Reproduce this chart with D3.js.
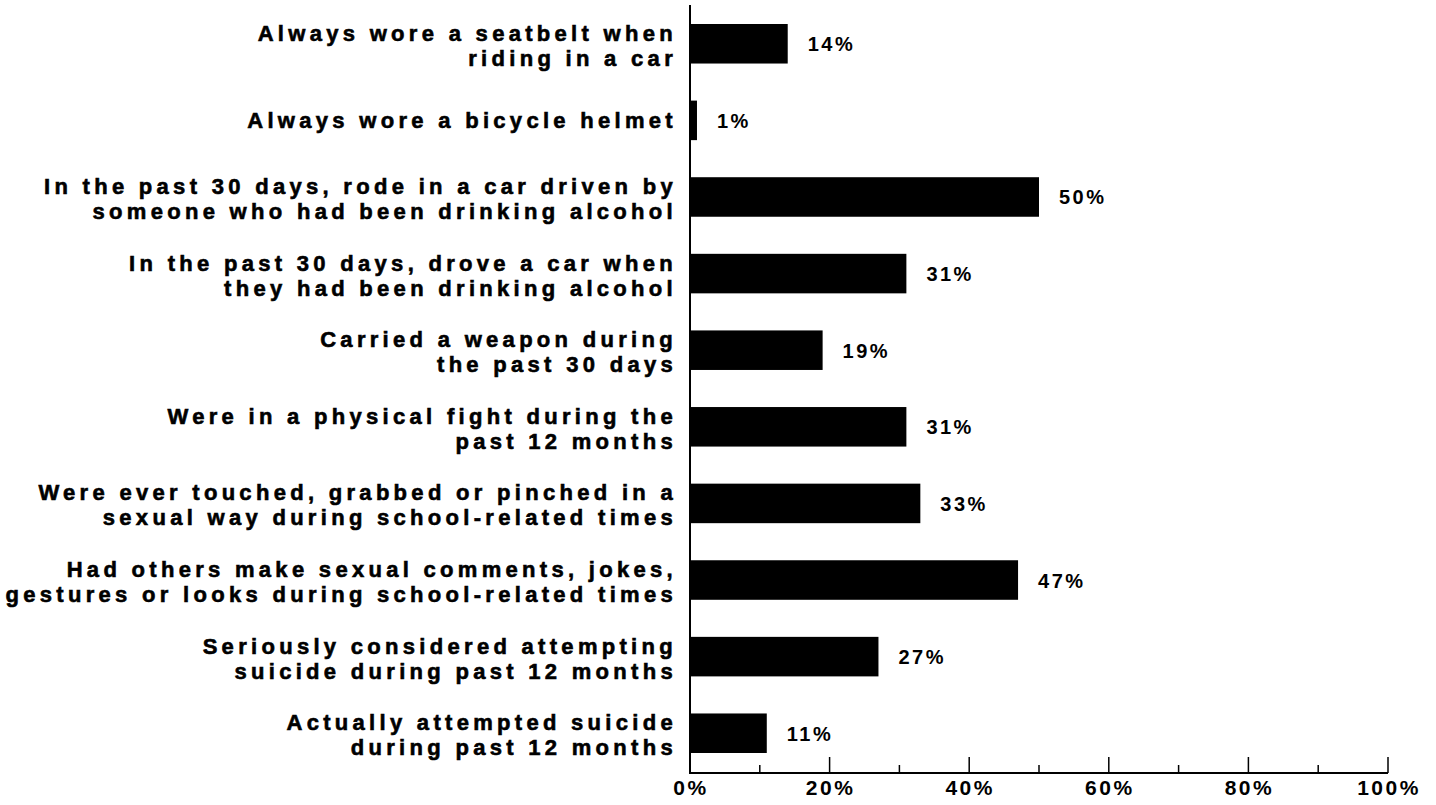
<!DOCTYPE html>
<html>
<head>
<meta charset="utf-8">
<script src="https://cdn.jsdelivr.net/npm/d3@7"></script>
<style>
  body { margin: 0; background: #fff; }
  text { font-family: "Liberation Sans", Arial, sans-serif; font-weight: bold; fill: #000; }
</style>
</head>
<body>
<div id="chart"></div>
<script>
// Category labels (two lines each, or one)
const categories = [
  ["Always wore a seatbelt when", "riding in a car"],
  ["Always wore a bicycle helmet"],
  ["In the past 30 days, rode in a car driven by", "someone who had been drinking alcohol"],
  ["In the past 30 days, drove a car when", "they had been drinking alcohol"],
  ["Carried a weapon during", "the past 30 days"],
  ["Were in a physical fight during the", "past 12 months"],
  ["Were ever touched, grabbed or pinched in a", "sexual way during school-related times"],
  ["Had others make sexual comments, jokes,", "gestures or looks during school-related times"],
  ["Seriously considered attempting", "suicide during past 12 months"],
  ["Actually attempted suicide", "during past 12 months"]
];
const values = [14, 1, 50, 31, 19, 31, 33, 47, 27, 11];
const majorTicks = [0, 20, 40, 60, 80, 100];
const minorTicks = [10, 30, 50, 70, 90];

const W = 1436, H = 805;
const margin = { top: 5, right: 48, bottom: 32, left: 690 };
const width = W - margin.left - margin.right;
const height = H - margin.top - margin.bottom;

const svg = d3.select("#chart")
  .append("svg")
    .attr("width", W)
    .attr("height", H)
  .append("g")
    .attr("transform", `translate(${margin.left},${margin.top})`);

const x = d3.scaleLinear().domain([0, 100]).range([0, width]);

const y = d3.scaleBand()
  .domain(categories.map((d, i) => i))
  .range([19, 748])
  .paddingInner(0.484)
  .paddingOuter(0);

// Axis lines
svg.append("line")
  .attr("x1", 0).attr("x2", 0)
  .attr("y1", 0).attr("y2", height)
  .attr("stroke", "#000").attr("stroke-width", 2);

svg.append("line")
  .attr("x1", -1).attr("x2", width)
  .attr("y1", height).attr("y2", height)
  .attr("stroke", "#000").attr("stroke-width", 2);

// Ticks
svg.selectAll("line.major")
  .data(majorTicks)
  .enter().append("line")
  .attr("class", "major")
  .attr("x1", d => x(d)).attr("x2", d => x(d))
  .attr("y1", height).attr("y2", height - 16)
  .attr("stroke", "#000").attr("stroke-width", 1.5);

svg.selectAll("line.minor")
  .data(minorTicks)
  .enter().append("line")
  .attr("class", "minor")
  .attr("x1", d => x(d)).attr("x2", d => x(d))
  .attr("y1", height).attr("y2", height - 8)
  .attr("stroke", "#000").attr("stroke-width", 1.5);

svg.selectAll("text.tick")
  .data(majorTicks)
  .enter().append("text")
  .attr("class", "tick")
  .attr("x", d => x(d) + 1)
  .attr("y", height + 22)
  .attr("text-anchor", "middle")
  .style("font-size", "21px")
  .style("letter-spacing", "2.5px")
  .text(d => d + "%");

// Bars
svg.selectAll("rect.bar")
  .data(values)
  .enter().append("rect")
  .attr("class", "bar")
  .attr("x", 0)
  .attr("y", (d, i) => y(i))
  .attr("width", d => x(d))
  .attr("height", y.bandwidth())
  .attr("fill", "#000");

// Value labels
svg.selectAll("text.val")
  .data(values)
  .enter().append("text")
  .attr("class", "val")
  .attr("x", d => x(d) + 20)
  .attr("y", (d, i) => y(i) + y.bandwidth() / 2 + 7.5)
  .style("font-size", "20px")
  .style("letter-spacing", "2.5px")
  .text(d => d + "%");

// Category labels
const lab = svg.selectAll("text.cat")
  .data(categories)
  .enter().append("text")
  .attr("class", "cat")
  .attr("text-anchor", "end")
  .style("font-size", "22px")
  .style("letter-spacing", "4.3px")
  .style("stroke", "#000")
  .style("stroke-width", "0.6px")
  .attr("transform", (d, i) => {
    const cy = y(i) + y.bandwidth() / 2;
    const top = d.length === 1 ? cy + 8 : cy - 3;
    return `translate(-13,${top})`;
  });

lab.selectAll("tspan")
  .data(d => d)
  .enter().append("tspan")
  .attr("x", 0)
  .attr("dy", (d, i) => i === 0 ? 0 : 25)
  .text(d => d);
</script>
</body>
</html>
